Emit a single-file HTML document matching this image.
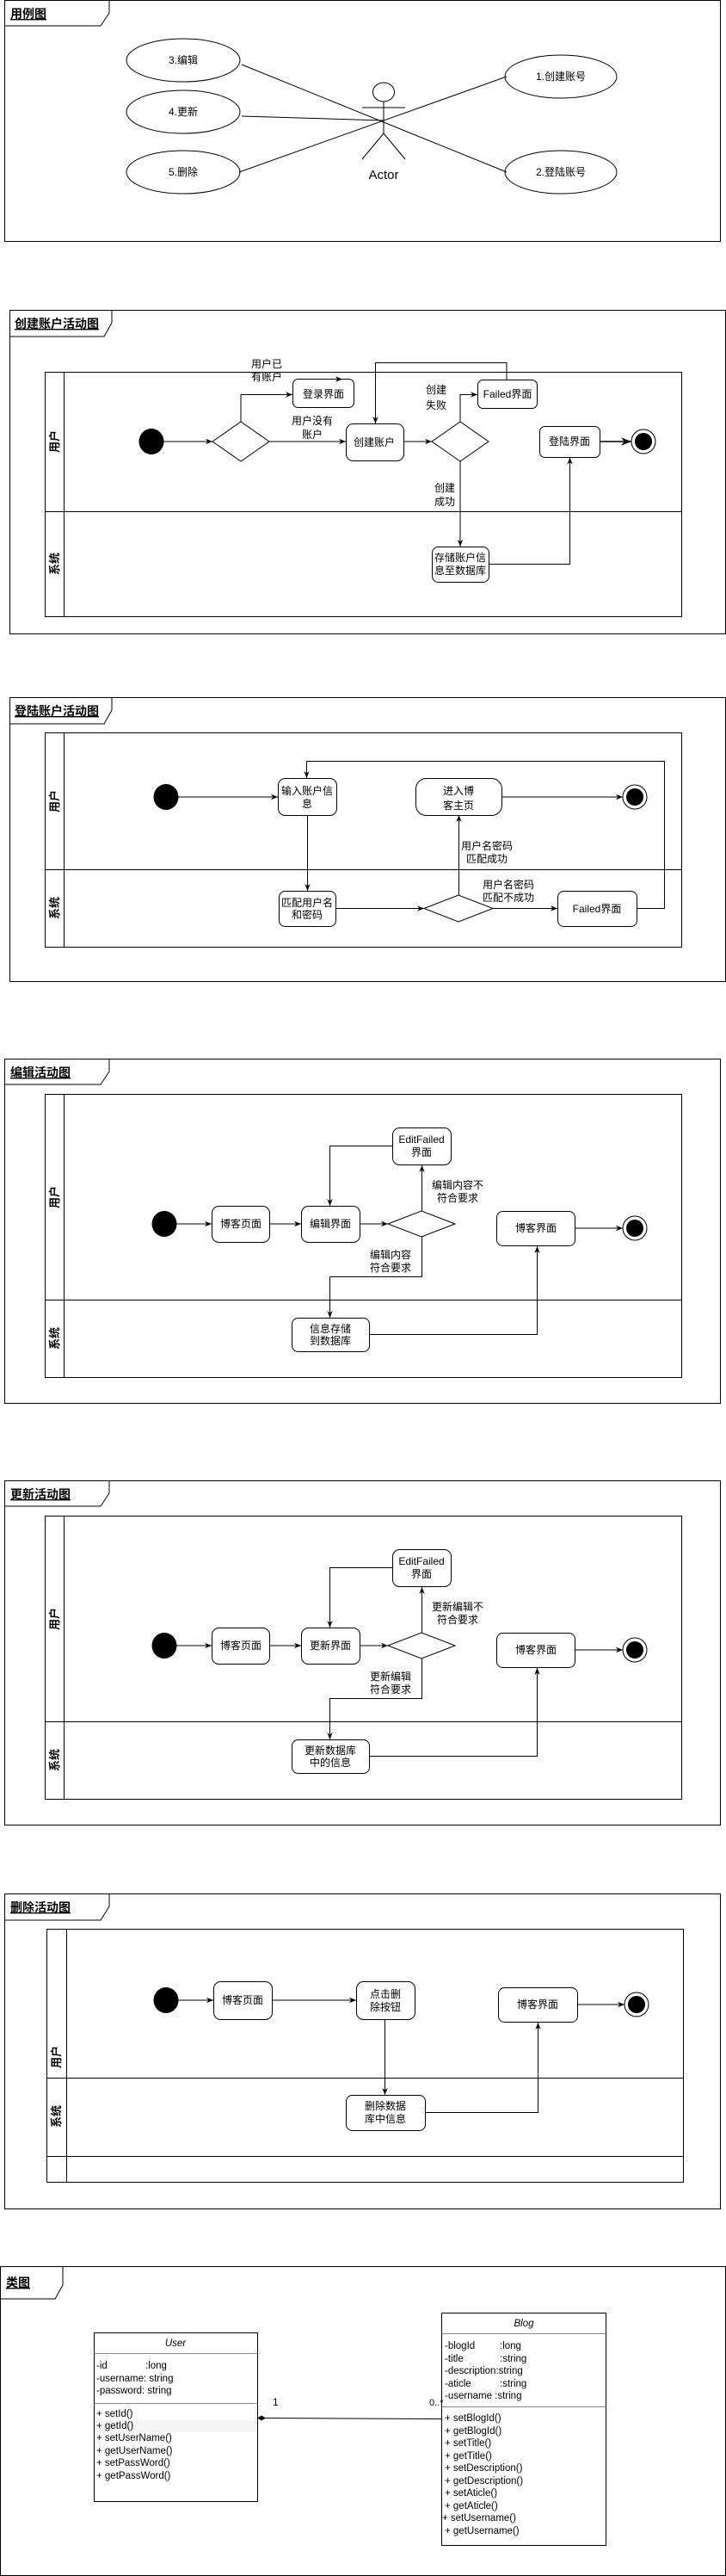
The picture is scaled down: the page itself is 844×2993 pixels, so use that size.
<!DOCTYPE html>
<html><head><meta charset="utf-8">
<style>
html,body{margin:0;padding:0;background:#fff;}
svg{display:block;}
text{font-family:"Liberation Sans","Noto Sans CJK SC",sans-serif;font-size:12px;fill:#000;}
.t{font-size:14px;font-weight:bold;text-decoration:underline;}
.lane{font-size:13px;font-weight:bold;}
.m{text-anchor:middle;}
.cls{font-size:11.5px;}
</style></head>
<body>
<svg width="844" height="2993" viewBox="0 0 844 2993" xmlns="http://www.w3.org/2000/svg">
<defs>
<marker id="a" viewBox="0 0 10 10" refX="10" refY="5" markerWidth="8" markerHeight="8" orient="auto"><path d="M0,1 L10,5 L0,9 L3,5z" fill="#000"/></marker>
</defs>
<g fill="none" stroke="#000" stroke-width="1">

<!-- ========== Section 1: use case ========== -->
<rect x="5.5" y="0.5" width="832" height="280"/>
<path d="M5.5,30 H117 L127,15 V0.5"/>
<ellipse cx="213" cy="70" rx="66" ry="25"/>
<ellipse cx="213" cy="130" rx="66" ry="25"/>
<ellipse cx="213" cy="200" rx="66" ry="25"/>
<ellipse cx="652" cy="89" rx="65" ry="25"/>
<ellipse cx="652" cy="200" rx="65" ry="25"/>
<ellipse cx="446" cy="107" rx="12.5" ry="11"/>
<line x1="446" y1="118" x2="446" y2="155"/>
<line x1="421" y1="125" x2="471" y2="125"/>
<line x1="446" y1="155" x2="421" y2="185"/>
<line x1="446" y1="155" x2="471" y2="185"/>
<line x1="281" y1="75" x2="589" y2="200"/>
<line x1="281" y1="135" x2="446" y2="140"/>
<line x1="278" y1="200" x2="589" y2="89"/>

<!-- ========== Section 2: create account ========== -->
<rect x="11.5" y="360.5" width="832" height="376"/>
<path d="M11.5,391 H121 L130,375 V360.5"/>
<rect x="52.5" y="432.5" width="740" height="284"/>
<line x1="74.5" y1="432.5" x2="74.5" y2="716.5"/>
<line x1="52.5" y1="594.5" x2="792.5" y2="594.5"/>
<polygon points="247,513 280,490 313,513 280,536"/>
<rect x="340.5" y="440.5" width="71" height="33" rx="6"/>
<rect x="402.5" y="492.5" width="67" height="43" rx="8"/>
<polygon points="502,513 535,490 568,513 535,536"/>
<rect x="555.5" y="441.5" width="69" height="33" rx="6"/>
<rect x="627.5" y="495.5" width="70" height="36" rx="6"/>
<rect x="502.5" y="635.5" width="66" height="41" rx="7"/>
<line x1="190" y1="513" x2="247" y2="513" marker-end="url(#a)"/>
<path d="M280,490 V458.5 H340" marker-end="url(#a)"/>
<line x1="386" y1="440.5" x2="398" y2="440.5" marker-end="url(#a)"/>
<line x1="313" y1="513" x2="402" y2="513" marker-end="url(#a)"/>
<line x1="469" y1="513" x2="502" y2="513" marker-end="url(#a)"/>
<path d="M535,490 V458.5 H555" marker-end="url(#a)"/>
<path d="M589,441.5 V421.5 H436.5 V492" marker-end="url(#a)"/>
<path d="M535,536 V635" marker-end="url(#a)"/>
<path d="M568,655.5 H662.5 V531.5" marker-end="url(#a)"/>
<line x1="697" y1="513" x2="734" y2="513" marker-end="url(#a)" stroke-width="1.5"/>
<circle cx="748" cy="513" r="14"/>

<!-- ========== Section 3: login ========== -->
<rect x="11.5" y="810.5" width="832" height="330"/>
<path d="M11.5,841 H121 L130,825 V810.5"/>
<rect x="52.5" y="851.5" width="740" height="249"/>
<line x1="74.5" y1="851.5" x2="74.5" y2="1100.5"/>
<line x1="52.5" y1="1010.5" x2="792.5" y2="1010.5"/>
<rect x="323.5" y="904.5" width="68" height="43" rx="8"/>
<rect x="483.5" y="904.5" width="100" height="43" rx="12"/>
<rect x="324.5" y="1035.5" width="66" height="41" rx="7"/>
<polygon points="493,1055.5 533,1040 573,1055.5 533,1071"/>
<rect x="648.5" y="1035.5" width="92" height="41" rx="7"/>
<line x1="207" y1="926" x2="323" y2="926" marker-end="url(#a)"/>
<line x1="357.5" y1="947" x2="357.5" y2="1035" marker-end="url(#a)"/>
<line x1="390" y1="1055.5" x2="493" y2="1055.5" marker-end="url(#a)"/>
<line x1="573" y1="1055.5" x2="648" y2="1055.5" marker-end="url(#a)"/>
<line x1="533.5" y1="1040" x2="533.5" y2="947" marker-end="url(#a)"/>
<path d="M740,1055.5 H772.5 V884.5 H356.5 V904" marker-end="url(#a)"/>
<line x1="583" y1="926" x2="724" y2="926" marker-end="url(#a)"/>
<circle cx="738" cy="926" r="14"/>

<!-- ========== Section 4: edit ========== -->
<rect x="5.5" y="1230.5" width="832" height="400"/>
<path d="M5.5,1260 H117 L127,1245 V1230.5"/>
<rect x="52.5" y="1271.5" width="740" height="329"/>
<line x1="74.5" y1="1271.5" x2="74.5" y2="1600.5"/>
<line x1="52.5" y1="1510.5" x2="792.5" y2="1510.5"/>
<rect x="246.5" y="1401.5" width="67" height="42" rx="8"/>
<rect x="350.5" y="1401.5" width="68" height="42" rx="8"/>
<polygon points="451,1422 490,1407 529,1422 490,1437"/>
<rect x="456.5" y="1310.5" width="68" height="43" rx="8"/>
<rect x="577.5" y="1407.5" width="91" height="40" rx="7"/>
<rect x="339.5" y="1531.5" width="90" height="39" rx="7"/>
<line x1="205" y1="1422" x2="246" y2="1422" marker-end="url(#a)"/>
<line x1="313" y1="1422" x2="350" y2="1422" marker-end="url(#a)"/>
<line x1="418" y1="1422" x2="451" y2="1422" marker-end="url(#a)"/>
<line x1="490.5" y1="1407" x2="490.5" y2="1354" marker-end="url(#a)"/>
<path d="M456,1331.5 H383.5 V1401" marker-end="url(#a)"/>
<path d="M490.5,1437 V1483.5 H383.5 V1531" marker-end="url(#a)"/>
<path d="M429,1550.5 H624.5 V1448" marker-end="url(#a)"/>
<line x1="668" y1="1427" x2="724" y2="1427" marker-end="url(#a)"/>
<circle cx="738" cy="1427" r="14"/>

<!-- ========== Section 5: update ========== -->
<g transform="translate(0,490)">
<rect x="5.5" y="1230.5" width="832" height="400"/>
<path d="M5.5,1260 H117 L127,1245 V1230.5"/>
<rect x="52.5" y="1271.5" width="740" height="329"/>
<line x1="74.5" y1="1271.5" x2="74.5" y2="1600.5"/>
<line x1="52.5" y1="1510.5" x2="792.5" y2="1510.5"/>
<rect x="246.5" y="1401.5" width="67" height="42" rx="8"/>
<rect x="350.5" y="1401.5" width="68" height="42" rx="8"/>
<polygon points="451,1422 490,1407 529,1422 490,1437"/>
<rect x="456.5" y="1310.5" width="68" height="43" rx="8"/>
<rect x="577.5" y="1407.5" width="91" height="40" rx="7"/>
<rect x="339.5" y="1531.5" width="90" height="39" rx="7"/>
<line x1="205" y1="1422" x2="246" y2="1422" marker-end="url(#a)"/>
<line x1="313" y1="1422" x2="350" y2="1422" marker-end="url(#a)"/>
<line x1="418" y1="1422" x2="451" y2="1422" marker-end="url(#a)"/>
<line x1="490.5" y1="1407" x2="490.5" y2="1354" marker-end="url(#a)"/>
<path d="M456,1331.5 H383.5 V1401" marker-end="url(#a)"/>
<path d="M490.5,1437 V1483.5 H383.5 V1531" marker-end="url(#a)"/>
<path d="M429,1550.5 H624.5 V1448" marker-end="url(#a)"/>
<line x1="668" y1="1427" x2="724" y2="1427" marker-end="url(#a)"/>
<circle cx="738" cy="1427" r="14"/>
</g>

<!-- ========== Section 6: delete ========== -->
<rect x="5.5" y="2200.5" width="832" height="366"/>
<path d="M5.5,2231 H117 L127,2215 V2200.5"/>
<rect x="54.5" y="2241.5" width="740" height="294"/>
<line x1="77.5" y1="2241.5" x2="77.5" y2="2535.5"/>
<line x1="54.5" y1="2414.5" x2="794.5" y2="2414.5"/>
<line x1="54.5" y1="2505.5" x2="794.5" y2="2505.5"/>
<rect x="248.5" y="2302.5" width="68" height="44" rx="8"/>
<rect x="414.5" y="2302.5" width="68" height="44" rx="8"/>
<rect x="579.5" y="2309.5" width="92" height="40" rx="7"/>
<rect x="402.5" y="2434.5" width="92" height="41" rx="7"/>
<line x1="207" y1="2324" x2="248" y2="2324" marker-end="url(#a)"/>
<line x1="316" y1="2324" x2="414" y2="2324" marker-end="url(#a)"/>
<line x1="447.5" y1="2346" x2="447.5" y2="2434" marker-end="url(#a)"/>
<path d="M494,2454.5 H625.5 V2350" marker-end="url(#a)"/>
<line x1="671" y1="2329" x2="726" y2="2329" marker-end="url(#a)"/>
<circle cx="740" cy="2329" r="14"/>

<!-- ========== Section 7: class diagram ========== -->
<rect x="0.5" y="2633.5" width="843" height="359"/>
<path d="M0.5,2671 H64 L73,2655 V2633.5"/>
<rect x="109.5" y="2710.5" width="190" height="196"/>
<line x1="109.5" y1="2734.5" x2="299.5" y2="2734.5" stroke="#888"/>
<line x1="109.5" y1="2792.5" x2="299.5" y2="2792.5" stroke="#888"/>
<rect x="513.5" y="2687.5" width="191" height="270"/>
<line x1="513.5" y1="2711.5" x2="704.5" y2="2711.5" stroke="#888"/>
<line x1="513.5" y1="2796.5" x2="704.5" y2="2796.5" stroke="#888"/>
<line x1="304" y1="2809.5" x2="513" y2="2810.5"/>
</g>
<rect x="110" y="2812" width="189" height="14" fill="#f5f5f5"/>
<polygon points="299,2809.5 304,2806.5 309,2809.5 304,2812.5" fill="#000"/>

<!-- filled circles -->
<g fill="#000">
<ellipse cx="176" cy="513" rx="14.5" ry="15"/>
<circle cx="748" cy="513" r="10"/>
<ellipse cx="193" cy="926" rx="14.5" ry="15"/>
<circle cx="738" cy="926" r="10"/>
<ellipse cx="191" cy="1422" rx="14.5" ry="15"/>
<circle cx="738" cy="1427" r="10"/>
<ellipse cx="191" cy="1912" rx="14.5" ry="15"/>
<circle cx="738" cy="1917" r="10"/>
<ellipse cx="193" cy="2324" rx="14.5" ry="15"/>
<circle cx="740" cy="2329" r="10"/>
</g>

<!-- ===== text ===== -->
<text class="t" x="12" y="21">用例图</text>
<text class="m" x="213" y="74">3.编辑</text>
<text class="m" x="213" y="134">4.更新</text>
<text class="m" x="213" y="204">5.删除</text>
<text class="m" x="652" y="93">1.创建账号</text>
<text class="m" x="652" y="204">2.登陆账号</text>
<text class="m" x="446" y="208" style="font-size:15px">Actor</text>

<text class="t" x="17" y="381">创建账户活动图</text>
<text class="lane m" transform="translate(68,513) rotate(-90)">用户</text>
<text class="lane m" transform="translate(68,655) rotate(-90)">系统</text>
<text class="m" x="310" y="427">用户已</text>
<text class="m" x="310" y="442">有账户</text>
<text class="m" x="376" y="462">登录界面</text>
<text class="m" x="363" y="493">用户没有</text>
<text class="m" x="363" y="509">账户</text>
<text class="m" x="435" y="518">创建账户</text>
<text class="m" x="507" y="457">创建</text>
<text class="m" x="507" y="475">失败</text>
<text class="m" x="590" y="462">Failed界面</text>
<text class="m" x="662" y="517">登陆界面</text>
<text class="m" x="517" y="571">创建</text>
<text class="m" x="517" y="587">成功</text>
<text class="m" x="535" y="652">存储账户信</text>
<text class="m" x="535" y="667">息至数据库</text>

<text class="t" x="17" y="831">登陆账户活动图</text>
<text class="lane m" transform="translate(68,931) rotate(-90)">用户</text>
<text class="lane m" transform="translate(68,1055) rotate(-90)">系统</text>
<text class="m" x="357" y="923">输入账户信</text>
<text class="m" x="357" y="938">息</text>
<text class="m" x="533" y="923">进入博</text>
<text class="m" x="533" y="940">客主页</text>
<text class="m" x="357" y="1053">匹配用户名</text>
<text class="m" x="357" y="1067">和密码</text>
<text class="m" x="566" y="987">用户名密码</text>
<text class="m" x="566" y="1002">匹配成功</text>
<text class="m" x="591" y="1032">用户名密码</text>
<text class="m" x="591" y="1047">匹配不成功</text>
<text class="m" x="694" y="1060">Failed界面</text>

<text class="t" x="12" y="1251">编辑活动图</text>
<text class="lane m" transform="translate(68,1391) rotate(-90)">用户</text>
<text class="lane m" transform="translate(68,1555) rotate(-90)">系统</text>
<text class="m" x="280" y="1426">博客页面</text>
<text class="m" x="384" y="1426">编辑界面</text>
<text class="m" x="490" y="1328">EditFailed</text>
<text class="m" x="490" y="1343">界面</text>
<text class="m" x="532" y="1381">编辑内容不</text>
<text class="m" x="532" y="1396">符合要求</text>
<text class="m" x="454" y="1462">编辑内容</text>
<text class="m" x="454" y="1477">符合要求</text>
<text class="m" x="623" y="1431">博客界面</text>
<text class="m" x="384" y="1548">信息存储</text>
<text class="m" x="384" y="1562">到数据库</text>

<text class="t" x="12" y="1741">更新活动图</text>
<text class="lane m" transform="translate(68,1881) rotate(-90)">用户</text>
<text class="lane m" transform="translate(68,2045) rotate(-90)">系统</text>
<text class="m" x="280" y="1916">博客页面</text>
<text class="m" x="384" y="1916">更新界面</text>
<text class="m" x="490" y="1818">EditFailed</text>
<text class="m" x="490" y="1833">界面</text>
<text class="m" x="532" y="1871">更新编辑不</text>
<text class="m" x="532" y="1886">符合要求</text>
<text class="m" x="454" y="1952">更新编辑</text>
<text class="m" x="454" y="1967">符合要求</text>
<text class="m" x="623" y="1921">博客界面</text>
<text class="m" x="384" y="2038">更新数据库</text>
<text class="m" x="384" y="2052">中的信息</text>

<text class="t" x="12" y="2221">删除活动图</text>
<text class="lane m" transform="translate(70,2390) rotate(-90)">用户</text>
<text class="lane m" transform="translate(70,2459) rotate(-90)">系统</text>
<text class="m" x="282" y="2328">博客页面</text>
<text class="m" x="448" y="2321">点击删</text>
<text class="m" x="448" y="2336">除按钮</text>
<text class="m" x="625" y="2333">博客界面</text>
<text class="m" x="448" y="2451">删除数据</text>
<text class="m" x="448" y="2466">库中信息</text>

<text class="t" x="7" y="2657">类图</text>
<text class="m cls" x="204" y="2726" style="font-style:italic">User</text>
<text class="cls" x="112" y="2752">-id</text><text class="cls" x="169" y="2752">:long</text>
<text class="cls" x="112" y="2767">-username: string</text>
<text class="cls" x="112" y="2781">-password: string</text>
<text class="cls" x="112" y="2808">+ setId()</text>
<text class="cls" x="112" y="2822">+ getId()</text>
<text class="cls" x="112" y="2836">+ setUserName()</text>
<text class="cls" x="112" y="2851">+ getUserName()</text>
<text class="cls" x="112" y="2865">+ setPassWord()</text>
<text class="cls" x="112" y="2880">+ getPassWord()</text>
<text x="317" y="2795" style="font-size:12px">1</text>
<text x="499" y="2795" style="font-size:11px">0..*</text>
<text class="m cls" x="609" y="2703" style="font-style:italic">Blog</text>
<text class="cls" x="517" y="2729">-blogId</text><text class="cls" x="581" y="2729">:long</text>
<text class="cls" x="517" y="2744">-title</text><text class="cls" x="581" y="2744">:string</text>
<text class="cls" x="517" y="2758">-description:string</text>
<text class="cls" x="517" y="2773">-aticle</text><text class="cls" x="581" y="2773">:string</text>
<text class="cls" x="517" y="2787">-username :string</text>
<text class="cls" x="517" y="2813">+ setBlogId()</text>
<text class="cls" x="517" y="2828">+ getBlogId()</text>
<text class="cls" x="517" y="2842">+ setTitle()</text>
<text class="cls" x="517" y="2857">+ getTitle()</text>
<text class="cls" x="517" y="2871">+ setDescription()</text>
<text class="cls" x="517" y="2886">+ getDescription()</text>
<text class="cls" x="517" y="2900">+ setAticle()</text>
<text class="cls" x="517" y="2915">+ getAticle()</text>
<text class="cls" x="514" y="2929">+ setUsername()</text>
<text class="cls" x="517" y="2944">+ getUsername()</text>
</svg>
</body></html>
